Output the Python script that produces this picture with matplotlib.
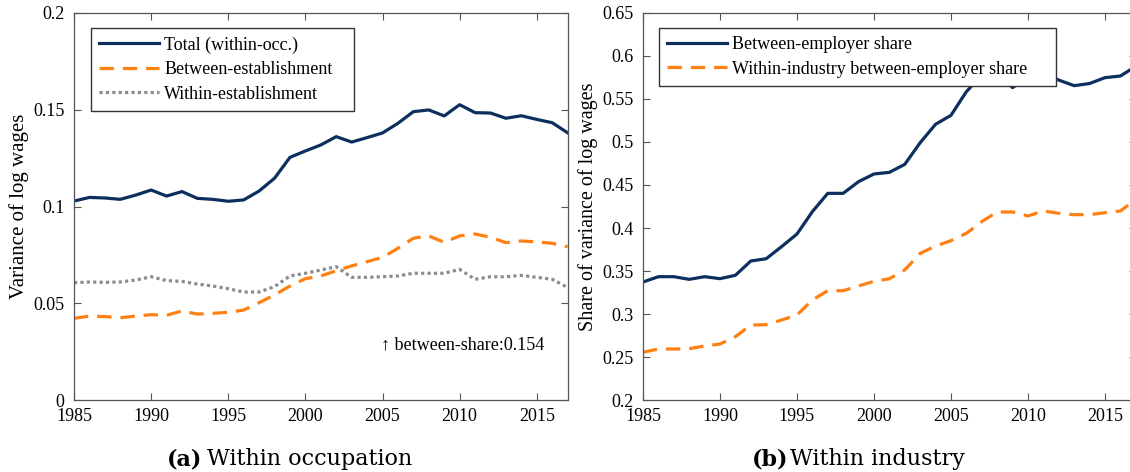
import matplotlib.pyplot as plt
import numpy as np

# Data
years = np.arange(1985, 2018)

total_within_occ = [0.1028, 0.1047, 0.1044, 0.1037, 0.1059, 0.1085, 0.1054, 0.1077, 0.1042, 0.1037,
                    0.1027, 0.1034, 0.1080, 0.1146, 0.1254, 0.1287, 0.1318, 0.1361, 0.1333, 0.1356,
                    0.1380, 0.1430, 0.1490, 0.1499, 0.1468, 0.1526, 0.1485, 0.1483, 0.1456, 0.1469,
                    0.1450, 0.1433, 0.1381]
between_est = [0.0422, 0.0434, 0.0431, 0.0425, 0.0434, 0.0441, 0.0438, 0.0460, 0.0444, 0.0448,
               0.0453, 0.0465, 0.0503, 0.0543, 0.0589, 0.0627, 0.0641, 0.0668, 0.0693, 0.0715,
               0.0737, 0.0784, 0.0836, 0.0848, 0.0815, 0.0848, 0.0858, 0.0841, 0.0813, 0.0822,
               0.0817, 0.0810, 0.0792]
within_est = [0.0606, 0.0610, 0.0608, 0.0610, 0.0620, 0.0637, 0.0617, 0.0613, 0.0599, 0.0589,
              0.0575, 0.0558, 0.0558, 0.0586, 0.0641, 0.0655, 0.0672, 0.0689, 0.0634, 0.0634,
              0.0637, 0.0641, 0.0655, 0.0655, 0.0655, 0.0675, 0.0624, 0.0637, 0.0637, 0.0644,
              0.0634, 0.0624, 0.0582]

between_emp_share = [0.3372, 0.3434, 0.3434, 0.3403, 0.3434, 0.3411, 0.3450, 0.3616, 0.3643, 0.3783,
                     0.3930, 0.4190, 0.4403, 0.4403, 0.4539, 0.4628, 0.4647, 0.4740, 0.4992, 0.5206,
                     0.5310, 0.5585, 0.5780, 0.5810, 0.5632, 0.5760, 0.5800, 0.5720, 0.5655, 0.5680,
                     0.5748, 0.5767, 0.5880]
within_ind_share = [0.2555, 0.2593, 0.2593, 0.2597, 0.2628, 0.2651, 0.2736, 0.2872, 0.2876, 0.2930,
                    0.2988, 0.3163, 0.3271, 0.3271, 0.3326, 0.3380, 0.3410, 0.3512, 0.3705, 0.3790,
                    0.3853, 0.3938, 0.4074, 0.4186, 0.4186, 0.4140, 0.4198, 0.4171, 0.4155, 0.4155,
                    0.4178, 0.4198, 0.4330]

left_yticks = [0, 0.05, 0.1, 0.15, 0.2]
left_yticklabels = ['0', '0.05', '0.1', '0.15', '0.2']
right_yticks = [0.2, 0.25, 0.3, 0.35, 0.4, 0.45, 0.5, 0.55, 0.6, 0.65]
right_yticklabels = ['0.2', '0.25', '0.3', '0.35', '0.4', '0.45', '0.5', '0.55', '0.6', '0.65']
xticks = [1985, 1990, 1995, 2000, 2005, 2010, 2015]

# Colors
navy = '#0d2f5e'
orange = '#ff8012'
gray = '#8c8c8c'
spine_color = '#555555'

serif = ['Liberation Serif', 'DejaVu Serif']
plt.rcParams['font.family'] = serif
plt.rcParams['font.size'] = 13

fig = plt.figure(figsize=(11.3, 4.72), dpi=100)
ax1 = fig.add_axes([0.0655, 0.1525, 0.4368, 0.82])
ax2 = fig.add_axes([0.569, 0.1525, 0.4361, 0.82])

legend_kw = dict(loc='upper left', mode='expand', fontsize=13, handlelength=3.3,
                 fancybox=False, framealpha=1, edgecolor='#333333', borderpad=0.45,
                 labelspacing=0.42, handletextpad=0.3, borderaxespad=0)

# Panel (a)
ax1.plot(years, total_within_occ, color=navy, lw=2.3, label='Total (within-occ.)')
ax1.plot(years, between_est, color=orange, lw=2.3, ls=(0, (4.5, 2.8)), label='Between-establishment')
ax1.plot(years, within_est, color=gray, lw=2.3, ls=(0, (1, 1)), label='Within-establishment')
ax1.set_xlim(1985, 2017)
ax1.set_ylim(0, 0.2)
ax1.set_yticks(left_yticks)
ax1.set_yticklabels(left_yticklabels)
ax1.set_ylabel('Variance of log wages', fontsize=15, labelpad=3)
ax1.text(2004.9, 0.0284, '\u2191 between-share:0.154', fontsize=13, family=serif, va='center')
ax1.legend(bbox_to_anchor=(0.0344, 0, 0.533, 0.961), **legend_kw)

# Panel (b)
ax2.plot(years, between_emp_share, color=navy, lw=2.3, label='Between-employer share')
ax2.plot(years, within_ind_share, color=orange, lw=2.3, ls=(0, (4.5, 2.8)),
         label='Within-industry between-employer share')
ax2.set_xlim(1985, 2017)
ax2.set_ylim(0.2, 0.65)
ax2.set_yticks(right_yticks)
ax2.set_yticklabels(right_yticklabels)
ax2.set_ylabel('Share of variance of log wages', fontsize=14.5, labelpad=3)
ax2.legend(bbox_to_anchor=(0.0325, 0, 0.806, 0.961), **legend_kw)

for ax in (ax1, ax2):
    ax.set_xticks(xticks)
    ax.tick_params(direction='in', top=True, right=True, length=5, width=0.8,
                   color=spine_color, labelsize=13)
    ax.tick_params(axis='y', pad=7)
    ax.tick_params(axis='x', pad=6)
    for s in ax.spines.values():
        s.set_color(spine_color)
        s.set_linewidth(0.9)

# Captions
cap_y = 0.014
fig.text(0.148, cap_y, '(a)', fontsize=16, fontweight='bold', ha='left', va='baseline', family='DejaVu Serif')
fig.text(0.183, cap_y, 'Within occupation', fontsize=16, ha='left', va='baseline', family='DejaVu Serif')
fig.text(0.665, cap_y, '(b)', fontsize=16, fontweight='bold', ha='left', va='baseline', family='DejaVu Serif')
fig.text(0.699, cap_y, 'Within industry', fontsize=16, ha='left', va='baseline', family='DejaVu Serif')

fig.savefig('out.png', dpi=100)
